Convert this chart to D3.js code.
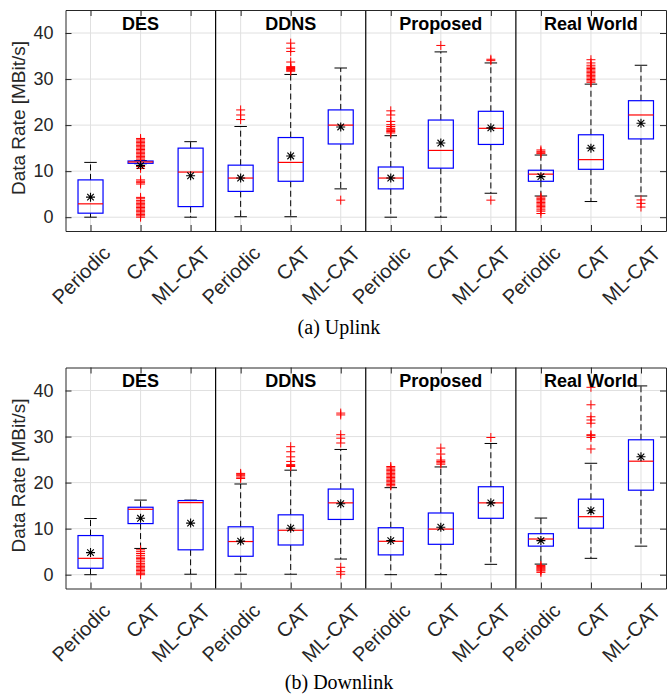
<!DOCTYPE html>
<html>
<head>
<meta charset="utf-8">
<script src="https://cdn.jsdelivr.net/npm/d3@7"></script>
<style>
  body { margin: 0; background: #fff; }
  svg text { font-family: "Liberation Sans", Arial, Helvetica, sans-serif; }
</style>
</head>
<body>
<div id="chart"></div>
<script>
// Categories and tick labels
const groups = ["DES", "DDNS", "Proposed", "Real World"];
const methods = ["Periodic", "CAT", "ML-CAT"];
const categories = groups.flatMap(g => methods);
const yTicks = [0, 10, 20, 30, 40];

// Uplink box statistics (order: DES, DDNS, Proposed, Real World x Periodic, CAT, ML-CAT)
const upLow  = [0, 11.6, 0, 0.1, 0.1, 6.15, 0, 0, 5.2, 4.6, 3.4, 4.6];
const upQ1   = [0.87, 11.7, 2.3, 5.6, 7.8, 15.9, 6.15, 10.65, 15.8, 7.8, 10.4, 17.0];
const upMed  = [2.9, 12.0, 9.8, 8.5, 11.9, 20.0, 8.5, 14.5, 19.3, 9.35, 12.5, 22.2];
const upQ3   = [8.1, 12.2, 15.0, 11.3, 17.3, 23.3, 10.9, 21.1, 23.0, 10.2, 17.9, 25.3];
const upHigh = [11.9, 12.3, 16.4, 19.7, 31.0, 32.4, 17.7, 35.9, 33.5, 13.5, 28.9, 33.0];
const upMean = [4.35, 11.2, 9.0, 8.5, 13.3, 19.6, 8.5, 16.1, 19.4, 8.8, 15.0, 20.4];
const upOut = [
  [],
  [12.6, 12.9, 13.2, 13.5, 13.8, 14.1, 14.4, 14.7, 15, 15.3, 15.6, 15.9, 16.2, 16.5, 16.8, 17.1,
   10.6, 11, 7.2, 7.5, 7.8, 8.1,
   0, 0.3, 0.6, 0.9, 1.2, 1.5, 1.8, 2.1, 2.4, 2.7, 3, 3.3, 3.6, 4, 4.3],
  [],
  [21.2, 22.2, 23.3],
  [31.7, 31.9, 32.1, 32.3, 32.5, 32.7, 33.7, 36.0, 36.7, 37.8],
  [3.7],
  [18.3, 18.6, 18.8, 19.1, 19.3, 19.7, 20.1, 20.8, 22.2, 23.1],
  [37.3],
  [34.0, 34.3, 3.7],
  [13.8, 14.0, 14.3, 14.6, 0.8, 1.3, 1.6, 2.0, 2.3, 2.6, 2.9, 3.2, 3.5, 3.8, 4.1, 4.4],
  [29.3, 29.6, 29.9, 30.2, 30.5, 30.8, 31.1, 31.4, 31.7, 32, 32.3, 32.6, 33, 33.5, 34.2],
  [2.2, 3.0, 3.75]
];

// Downlink box statistics
const dnLow  = [0, 5.7, 0.1, 0.1, 0.1, 3.4, 0, 0, 2.25, 2.3, 3.55, 6.2];
const dnQ1   = [1.4, 11.1, 5.4, 4.0, 6.45, 12.0, 4.3, 6.6, 12.25, 6.2, 10.1, 18.35];
const dnMed  = [3.55, 14.2, 15.65, 7.2, 9.65, 15.6, 7.25, 9.9, 15.6, 7.75, 12.6, 24.65];
const dnQ3   = [8.5, 14.65, 16.1, 10.4, 13.0, 18.6, 10.2, 13.4, 19.1, 8.9, 16.4, 29.3];
const dnHigh = [12.2, 16.2, 16.2, 19.7, 22.7, 27.2, 18.9, 23.4, 28.5, 12.3, 24.2, 41.0];
const dnMean = [4.8, 12.25, 11.2, 7.3, 10.1, 15.4, 7.4, 10.3, 15.6, 7.4, 13.9, 25.6];
const dnOut = [
  [],
  [0, 0.3, 0.6, 0.9, 1.2, 1.5, 1.8, 2.1, 2.4, 2.8, 3.2, 3.5, 3.8, 4.2, 4.6, 5.0, 5.4],
  [],
  [20.9, 21.2, 21.5, 21.8, 22.0],
  [23.5, 23.7, 23.9, 24.6, 25.6, 26.7, 27.8],
  [28.6, 29.65, 30.4, 34.7, 35.1, 0.1, 0.65, 1.6],
  [19.3, 19.6, 19.9, 20.2, 20.5, 20.8, 21.1, 21.4, 21.7, 22, 22.3, 22.6, 22.9, 23.2, 23.5],
  [24.0, 24.3, 24.6, 24.9, 26.2, 27.5],
  [29.8],
  [0.5, 0.8, 1.0, 1.2, 1.4, 1.6, 1.8, 2.0],
  [27.3, 29.8, 30.2, 30.4, 32.9, 33.6, 34.3, 36.9, 40.7],
  []
];

const width = 667, height = 694;
const plotLeft = 65.5, plotRight = 666;

const svg = d3.select("#chart")
  .append("svg")
  .attr("width", width)
  .attr("height", height);

const x = d3.scaleLinear().domain([0.5, 12.5]).range([plotLeft, plotRight]);

function drawPanel(top, bottom, low, q1, med, q3, high, mean, out, caption, captionY) {
  const y = d3.scaleLinear().domain([-3, 45]).range([bottom, top]);
  const g = svg.append("g");
  const idx = d3.range(categories.length);

  // grid
  g.selectAll(".hgrid").data(yTicks).enter().append("line")
    .attr("x1", plotLeft).attr("x2", plotRight)
    .attr("y1", d => y(d)).attr("y2", d => y(d))
    .attr("stroke", "#e0e0e0").attr("stroke-width", 1);
  g.selectAll(".vgrid").data(idx).enter().append("line")
    .attr("x1", i => x(i + 1)).attr("x2", i => x(i + 1))
    .attr("y1", top).attr("y2", bottom)
    .attr("stroke", "#e0e0e0").attr("stroke-width", 1);

  const halfBox = (x(1.25) - x(1));
  const halfCap = (x(1.125) - x(1));

  // whiskers
  idx.forEach(i => {
    const cx = x(i + 1);
    g.append("line").attr("x1", cx).attr("x2", cx)
      .attr("y1", y(q3[i])).attr("y2", y(high[i]))
      .attr("stroke", "#000").attr("stroke-dasharray", "6,3.5");
    g.append("line").attr("x1", cx).attr("x2", cx)
      .attr("y1", y(q1[i])).attr("y2", y(low[i]))
      .attr("stroke", "#000").attr("stroke-dasharray", "6,3.5");
    [low[i], high[i]].forEach(v => {
      g.append("line").attr("x1", cx - halfCap).attr("x2", cx + halfCap)
        .attr("y1", y(v)).attr("y2", y(v))
        .attr("stroke", "#000");
    });
  });

  // boxes
  g.selectAll(".box").data(idx).enter().append("rect")
    .attr("x", i => x(i + 1) - halfBox)
    .attr("width", 2 * halfBox)
    .attr("y", i => y(q3[i]))
    .attr("height", i => y(q1[i]) - y(q3[i]))
    .attr("fill", "none").attr("stroke", "#0000ff").attr("stroke-width", 1.2);
  g.selectAll(".median").data(idx).enter().append("line")
    .attr("x1", i => x(i + 1) - halfBox).attr("x2", i => x(i + 1) + halfBox)
    .attr("y1", i => y(med[i])).attr("y2", i => y(med[i]))
    .attr("stroke", "#ff0000").attr("stroke-width", 1.2);

  // outliers (+)
  const r = 4.5;
  const plus = `M${-r},0H${r}M0,${-r}V${r}`;
  idx.forEach(i => {
    g.selectAll(null).data(out[i]).enter().append("path")
      .attr("d", plus)
      .attr("transform", v => `translate(${x(i + 1)},${y(v)})`)
      .attr("fill", "none").attr("stroke", "#ff0000").attr("stroke-width", 1);
  });

  // means (*)
  const s = 4.5, d = 3.3;
  const star = `M${-s},0H${s}M0,${-s}V${s}M${-d},${-d}L${d},${d}M${-d},${d}L${d},${-d}`;
  g.selectAll(".mean").data(idx).enter().append("path")
    .attr("d", star)
    .attr("transform", i => `translate(${x(i + 1)},${y(mean[i])})`)
    .attr("fill", "none").attr("stroke", "#000").attr("stroke-width", 1.1);

  // group separators
  g.selectAll(".sep").data([3.5, 6.5, 9.5]).enter().append("line")
    .attr("x1", d => x(d)).attr("x2", d => x(d))
    .attr("y1", top).attr("y2", bottom)
    .attr("stroke", "#000").attr("stroke-width", 1.2);

  // axes
  const axisColor = "#262626";
  const left = g.append("g").attr("transform", `translate(${plotLeft},0)`)
    .call(d3.axisLeft(y).tickValues(yTicks).tickSizeInner(-6).tickSizeOuter(0).tickPadding(12));
  g.append("g").attr("transform", `translate(${plotRight},0)`)
    .call(d3.axisRight(y).tickValues(yTicks).tickSizeInner(-6).tickSizeOuter(0).tickFormat(""));
  g.append("g").attr("transform", `translate(0,${top})`)
    .call(d3.axisTop(x).tickValues(idx.map(i => i + 1)).tickSizeInner(-6).tickSizeOuter(0).tickFormat(""));
  const bot = g.append("g").attr("transform", `translate(0,${bottom})`)
    .call(d3.axisBottom(x).tickValues(idx.map(i => i + 1)).tickSizeInner(-6).tickSizeOuter(0)
      .tickFormat((v, i) => categories[i]));

  g.selectAll(".domain").attr("stroke", axisColor);
  g.selectAll(".tick line").attr("stroke", axisColor);
  left.selectAll("text").attr("font-size", 18).attr("fill", axisColor)
    .style("font-family", "'Liberation Sans', Arial, sans-serif");
  bot.selectAll("text")
    .attr("y", 0).attr("dy", 0)
    .attr("text-anchor", "end")
    .attr("transform", "translate(20.5,23.5) rotate(-45)")
    .attr("font-size", 20).attr("fill", axisColor)
    .style("font-family", "'Liberation Sans', Arial, sans-serif");

  // group titles
  g.selectAll(".gtitle").data(groups).enter().append("text")
    .attr("x", (d, i) => x(3 * i + 2))
    .attr("y", top + 19.5)
    .attr("text-anchor", "middle")
    .attr("font-size", 18).attr("font-weight", "bold")
    .text(d => d);

  // y label
  const cy = (top + bottom) / 2 - 2.5;
  g.append("text")
    .attr("transform", `translate(25,${cy}) rotate(-90)`)
    .attr("text-anchor", "middle")
    .attr("font-size", 19).attr("fill", axisColor)
    .text("Data Rate [MBit/s]");

  // caption
  g.append("text")
    .attr("x", 339).attr("y", captionY)
    .attr("text-anchor", "middle")
    .attr("font-size", 20)
    .style("font-family", "'Liberation Serif', 'Times New Roman', serif")
    .text(caption);
}

drawPanel(10, 231, upLow, upQ1, upMed, upQ3, upHigh, upMean, upOut, "(a) Uplink", 334);
drawPanel(367.5, 588.5, dnLow, dnQ1, dnMed, dnQ3, dnHigh, dnMean, dnOut, "(b) Downlink", 689);
</script>
</body>
</html>
